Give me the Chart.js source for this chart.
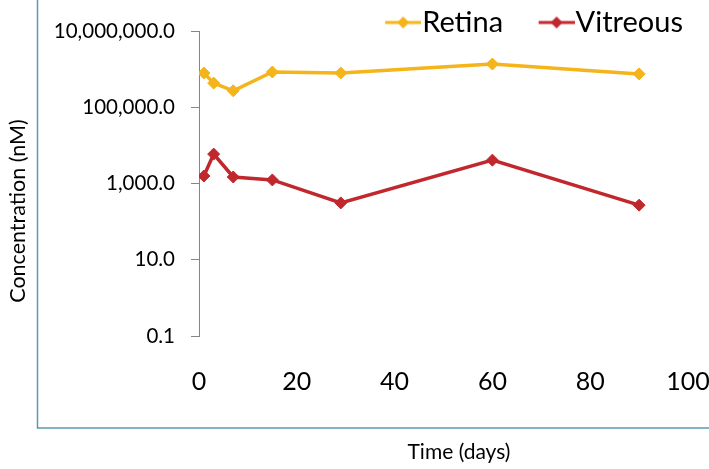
<!DOCTYPE html>
<html>
<head>
<meta charset="UTF-8">
<title>Concentration vs time</title>
<script src="https://cdn.jsdelivr.net/npm/chart.js"></script>
<style>
  html, body { margin: 0; padding: 0; background: #fff; }
  canvas { display: block; }
</style>
</head>
<body>
<canvas id="chart" width="709" height="469"></canvas>
<script>
// data
const days = [1, 3, 7, 15, 29, 60, 90];
const retina = [790000, 430000, 270000, 840000, 790000, 1360000, 750000];
const vitreous = [1570, 5900, 1480, 1240, 310, 4100, 270];
const yTicks = [0.1, 10, 1000, 100000, 10000000];
const xTicks = [0, 20, 40, 60, 80, 100];

const FONT = 'Lato, "Open Sans", sans-serif';
const GOLD = '#f4b41a';
const RED = '#c0282d';

// legend symbol: short line + diamond, drawn at the right end of a wider transparent canvas
function legendMark(color) {
  const c = document.createElement('canvas');
  c.width = 80; c.height = 16;
  const g = c.getContext('2d');
  g.strokeStyle = color; g.lineWidth = 3;
  g.beginPath(); g.moveTo(44, 8); g.lineTo(80, 8); g.stroke();
  g.fillStyle = color;
  g.beginPath(); g.moveTo(62, 2); g.lineTo(68, 8); g.lineTo(62, 14); g.lineTo(56, 8); g.closePath(); g.fill();
  return c;
}

function fmt(v) {
  return Number(v).toLocaleString('en-US', { minimumFractionDigits: 1, maximumFractionDigits: 1 });
}

const frame = {
  id: 'frame',
  beforeDraw(chart) {
    const ctx = chart.ctx;
    ctx.save();
    ctx.strokeStyle = '#5b9aac';
    ctx.lineWidth = 1.5;
    ctx.strokeRect(37.5, -5, 700, 433);
    ctx.restore();
  }
};

// axis titles sit off-centre in the original, so they are placed by hand
const titles = {
  id: 'titles',
  afterDraw(chart) {
    const ctx = chart.ctx;
    ctx.save();
    ctx.fillStyle = '#000';
    ctx.textAlign = 'center';
    ctx.textBaseline = 'middle';
    ctx.font = '21px ' + FONT;
    ctx.fillText('Time (days)', 459, 452);
    ctx.translate(18, 211);
    ctx.rotate(-Math.PI / 2);
    ctx.font = '21.5px ' + FONT;
    ctx.fillText('Concentration (nM)', 0, 0);
    ctx.restore();
  }
};

// legend takes 28px of layout height, but its text may hang a little lower
const legendBox = {
  id: 'legendBox',
  beforeInit(chart) {
    const fit = chart.legend.fit;
    chart.legend.fit = function () { fit.call(this); this.height = 28; };
  },
  afterLayout(chart) {
    chart.legend.bottom = chart.legend.top + 45;
  }
};

new Chart(document.getElementById('chart'), {
  type: 'line',
  data: {
    datasets: [
      {
        label: 'Retina',
        data: days.map((d, i) => ({ x: d, y: retina[i] })),
        borderColor: GOLD, backgroundColor: GOLD,
        borderWidth: 3.5, pointStyle: 'rectRot', pointRadius: 6, pointBorderWidth: 1,
        tension: 0
      },
      {
        label: 'Vitreous',
        data: days.map((d, i) => ({ x: d, y: vitreous[i] })),
        borderColor: RED, backgroundColor: RED,
        borderWidth: 3.5, pointStyle: 'rectRot', pointRadius: 6, pointBorderWidth: 1,
        tension: 0
      }
    ]
  },
  options: {
    responsive: false,
    animation: false,
    layout: { padding: { left: 0, right: 21, top: 3, bottom: 0 } },
    plugins: {
      tooltip: { enabled: false },
      legend: {
        position: 'top',
        align: 'end',
        labels: {
          usePointStyle: true,
          pointStyleWidth: 53,
          padding: 5,
          color: '#000',
          font: { family: FONT, size: 29 },
          generateLabels(chart) {
            return chart.data.datasets.map((ds, i) => ({
              text: ds.label,
              pointStyle: legendMark(ds.borderColor),
              fillStyle: ds.borderColor,
              strokeStyle: ds.borderColor,
              lineWidth: 0,
              datasetIndex: i,
              hidden: false
            }));
          }
        }
      }
    },
    scales: {
      x: {
        type: 'linear',
        min: 0, max: 100,
        afterBuildTicks: s => { s.ticks = xTicks.map(v => ({ value: v })); },
        grid: { display: false },
        border: { display: false },
        ticks: { font: { family: FONT, size: 25 }, color: '#000', padding: 23, maxRotation: 0, autoSkip: false },
        afterFit: s => { s.height = 133; s.paddingRight = 0; }
      },
      y: {
        type: 'logarithmic',
        min: 0.1, max: 10000000,
        afterBuildTicks: s => { s.ticks = yTicks.map(v => ({ value: v })); },
        grid: { display: true, drawOnChartArea: false, drawTicks: true, tickLength: 8, color: '#868686', lineWidth: 1 },
        border: { display: true, color: '#868686', width: 1 },
        ticks: { font: { family: FONT, size: 20.5 }, color: '#000', padding: 16, autoSkip: false, callback: v => fmt(v) },
        afterFit: s => { s.width = 199; }
      }
    }
  },
  plugins: [legendBox, frame, titles]
});
</script>
</body>
</html>
